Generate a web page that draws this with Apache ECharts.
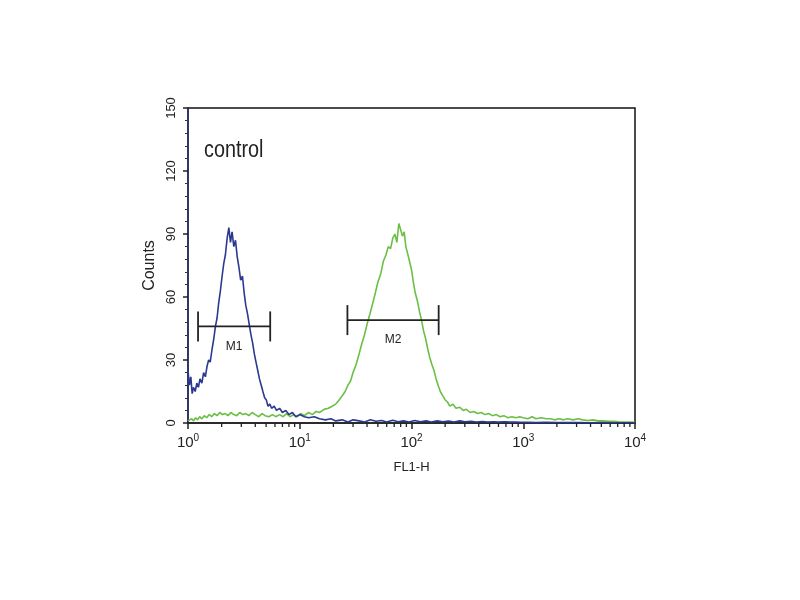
<!DOCTYPE html>
<html>
<head>
<meta charset="utf-8">
<script src="https://cdn.jsdelivr.net/npm/echarts@6/dist/echarts.min.js"></script>
<style>html,body{margin:0;padding:0;background:#fff}#c{width:800px;height:600px}</style>
</head>
<body>
<div id="c"></div>
<script>
var yTicks = [0, 30, 60, 90, 120, 150];
var xTickExponents = [0, 1, 2, 3, 4];
var xMinorTicks = [2,3,4,5,6,7,8,9,20,30,40,50,60,70,80,90,200,300,400,500,600,700,800,900,2000,3000,4000,5000,6000,7000,8000,9000];
var sampleLabel = 'control';

var blueX = [1.00,1.03,1.06,1.09,1.12,1.16,1.20,1.24,1.28,1.33,1.38,1.43,1.48,1.53,1.58,1.64,1.70,1.76,1.82,1.88,1.95,2.02,2.09,2.16,2.24,2.32,2.40,2.48,2.57,2.66,2.76,2.86,2.96,3.07,3.18,3.29,3.41,3.53,3.66,3.79,3.92,4.06,4.21,4.36,4.52,4.68,4.85,5.02,5.20,5.40,5.6,5.9,6.2,6.6,7.0,7.5,8.0,8.6,9.2,10,11,12,13.5,15,17,19,21,24,27,30,34,38,43,48,54,60,68,76,85,95,107,120,135,150,170,190,215,240,270,300,340,380,430,480,540,600,680,760,850,950,1100,1300,1600,2000,2500,3200,4000,5000,6300,8000,10000];
var blueY = [25,18,22,14,17,15,19,17,21,19,24,22,27,30,29,35,40,46,50,57,63,70,76,80,88,93,86,91,84,87,79,74,68,70,62,56,52,47,42,38,33,29,25,21,18,15,12,11,8,9,7,8,6,7,5,6,4,5,3,4,3,2.5,3,2,1.5,2,1,1.5,0.5,1.5,1,0.5,1.5,0.8,1.2,0.5,1.3,0.6,1,0.5,1.2,0.6,1,0.5,1,0.6,0.9,0.5,1,0.6,0.8,0.5,0.7,0.5,0.6,0.4,0.6,0.4,0.5,0.3,0.3,0.2,0.3,0.2,0.2,0.2,0.1,0.2,0.1,0.1,0.1];

var greenX = [1.00,1.04,1.08,1.12,1.17,1.22,1.27,1.33,1.40,1.47,1.55,1.63,1.72,1.82,1.92,2.03,2.15,2.28,2.42,2.57,2.73,2.9,3.1,3.3,3.5,3.75,4.0,4.3,4.6,4.9,5.3,5.7,6.1,6.6,7.1,7.6,8.2,8.8,9.5,10.2,11,12,13,14,15,16.5,18,19.5,21,22.5,24,25.5,27,28.5,30,32,34,36,38,40,42.5,45,47.5,50,53,56,59,62,65,68,71,74,77,80,83,86,89,92,96,100,104,108,113,118,123,128,134,140,146,152,159,166,173,181,190,200,210,220,235,250,270,290,310,335,360,390,420,455,490,530,575,620,670,730,790,860,930,1000,1100,1200,1300,1450,1600,1750,1900,2100,2300,2500,2800,3100,3400,3800,4200,4700,5200,5800,6500,7200,8000,9000,10000];
var greenY = [1,0.5,2,1,2.5,1.5,3,2,3.5,2.5,4,3,4.5,3.5,5,4,4.5,3.5,5,4,3.5,5,4,4.5,3.5,5,4,3,4.5,3.5,3,4,3,4,3,4.5,3,4,3,4.5,3.5,5,4,5.5,5,6.5,7,8,9,11,13,15,18,20,24,28,33,38,42,47,52,57,62,67,71,77,80,84,83,88,90,86,95,92,89,91,84,81,77,73,67,62,58,53,49,44,40,35,31,28,25,21,18,15,13,11,10,8,9,7,7.5,6,6.5,5,5.5,4.5,5,4,4.5,3.5,4,3,3.5,2.5,3,2.5,3,2.5,2,3,2,2.5,2,2,1.5,2,1.5,2,1.5,2,1.5,1.2,1.5,1,1,0.8,0.8,0.6,0.5,0.5,0.3];

var markerNames = ['M1', 'M2'];
var markerLo = [1.23, 26.7];
var markerHi = [5.44, 175];
var markerLevel = [46, 49];

function pairs(xs, ys) {
  var out = [];
  for (var i = 0; i < xs.length; i++) out.push([xs[i], ys[i]]);
  return out;
}
var markerData = markerNames.map(function (n, i) {
  return { name: n, value: [markerLo[i], markerHi[i], markerLevel[i]] };
});
var minorTickData = xMinorTicks.map(function (v) { return [v, 0]; });

var FONT = "'Liberation Sans Narrow','Liberation Sans',Arial,sans-serif";
var chart = echarts.init(document.getElementById('c'), null, { renderer: 'canvas' });
chart.setOption({
  animation: false,
  backgroundColor: '#fff',
  grid: { left: 188, right: 165, top: 108, bottom: 177, show: true, borderColor: '#111', borderWidth: 1.5, backgroundColor: 'transparent' },
  graphic: [{
    type: 'text', x: 204, y: 139, scaleX: 0.86,
    style: { text: sampleLabel, font: '23px ' + FONT, fill: '#222' }
  }],
  xAxis: {
    type: 'log', logBase: 10, min: 1, max: 10000,
    name: 'FL1-H', nameLocation: 'middle', nameGap: 38,
    nameTextStyle: { fontFamily: FONT, fontSize: 13, color: '#222' },
    axisLine: { show: true, onZero: false, lineStyle: { color: '#222', width: 1.5 } },
    axisTick: { show: true, inside: false, length: 6, lineStyle: { color: '#222', width: 1.5 } },
    minorTick: { show: false },
    splitLine: { show: false },
    axisLabel: {
      margin: 10, color: '#222', fontFamily: FONT, fontSize: 15,
      formatter: function (v) { return '10{s|' + Math.round(Math.log10(v)) + '}'; },
      rich: { s: { fontSize: 10, fontFamily: FONT, color: '#222', verticalAlign: 'top', padding: [0, 0, 10, 0] } }
    }
  },
  yAxis: {
    type: 'value', min: 0, max: 150, interval: 30,
    name: 'Counts', nameLocation: 'middle', nameGap: 28, nameRotate: 90,
    nameTextStyle: { fontFamily: FONT, fontSize: 16, color: '#222' },
    axisLine: { show: true, lineStyle: { color: '#2a3170', width: 1.5 } },
    axisTick: { show: true, length: 5, lineStyle: { color: '#222', width: 1.5 } },
    minorTick: { show: true, splitNumber: 5, length: 3, lineStyle: { color: '#333' } },
    splitLine: { show: false },
    axisLabel: { rotate: 90, margin: 10, color: '#222', fontFamily: FONT, fontSize: 13 }
  },
  series: [
    {
      type: 'line', name: 'blue', data: pairs(blueX, blueY), showSymbol: false, symbol: 'none',
      lineStyle: { color: '#2b3990', width: 1.6 }, z: 3
    },
    {
      type: 'line', name: 'green', data: pairs(greenX, greenY), showSymbol: false, symbol: 'none',
      lineStyle: { color: '#6cbf45', width: 1.6 }, z: 2
    },
    {
      type: 'custom', name: 'minorTicks', data: minorTickData, clip: false, silent: true,
      encode: { x: 0, y: 1 }, z: 6,
      renderItem: function (params, api) {
        var p = api.coord([api.value(0), 0]);
        return { type: 'line', shape: { x1: p[0], y1: p[1], x2: p[0], y2: p[1] + 4 }, style: { stroke: '#222', lineWidth: 1.3 } };
      }
    },
    {
      type: 'custom', name: 'markers', data: markerData,
      encode: { x: [0, 1], y: 2 }, z: 5,
      renderItem: function (params, api) {
        var a = api.coord([api.value(0), api.value(2)]);
        var b = api.coord([api.value(1), api.value(2)]);
        var h = 15;
        var st = { stroke: '#222', lineWidth: 1.8 };
        return {
          type: 'group', children: [
            { type: 'line', shape: { x1: a[0], y1: a[1], x2: b[0], y2: b[1] }, style: st },
            { type: 'line', shape: { x1: a[0], y1: a[1] - h, x2: a[0], y2: a[1] + h }, style: st },
            { type: 'line', shape: { x1: b[0], y1: b[1] - h, x2: b[0], y2: b[1] + h }, style: st },
            { type: 'text', x: (a[0] + b[0]) / 2, y: a[1] + 20,
              style: { text: markerNames[params.dataIndex], font: '12px ' + FONT, fill: '#222', align: 'center', verticalAlign: 'middle' } }
          ]
        };
      }
    }
  ]
});
</script>
</body>
</html>
